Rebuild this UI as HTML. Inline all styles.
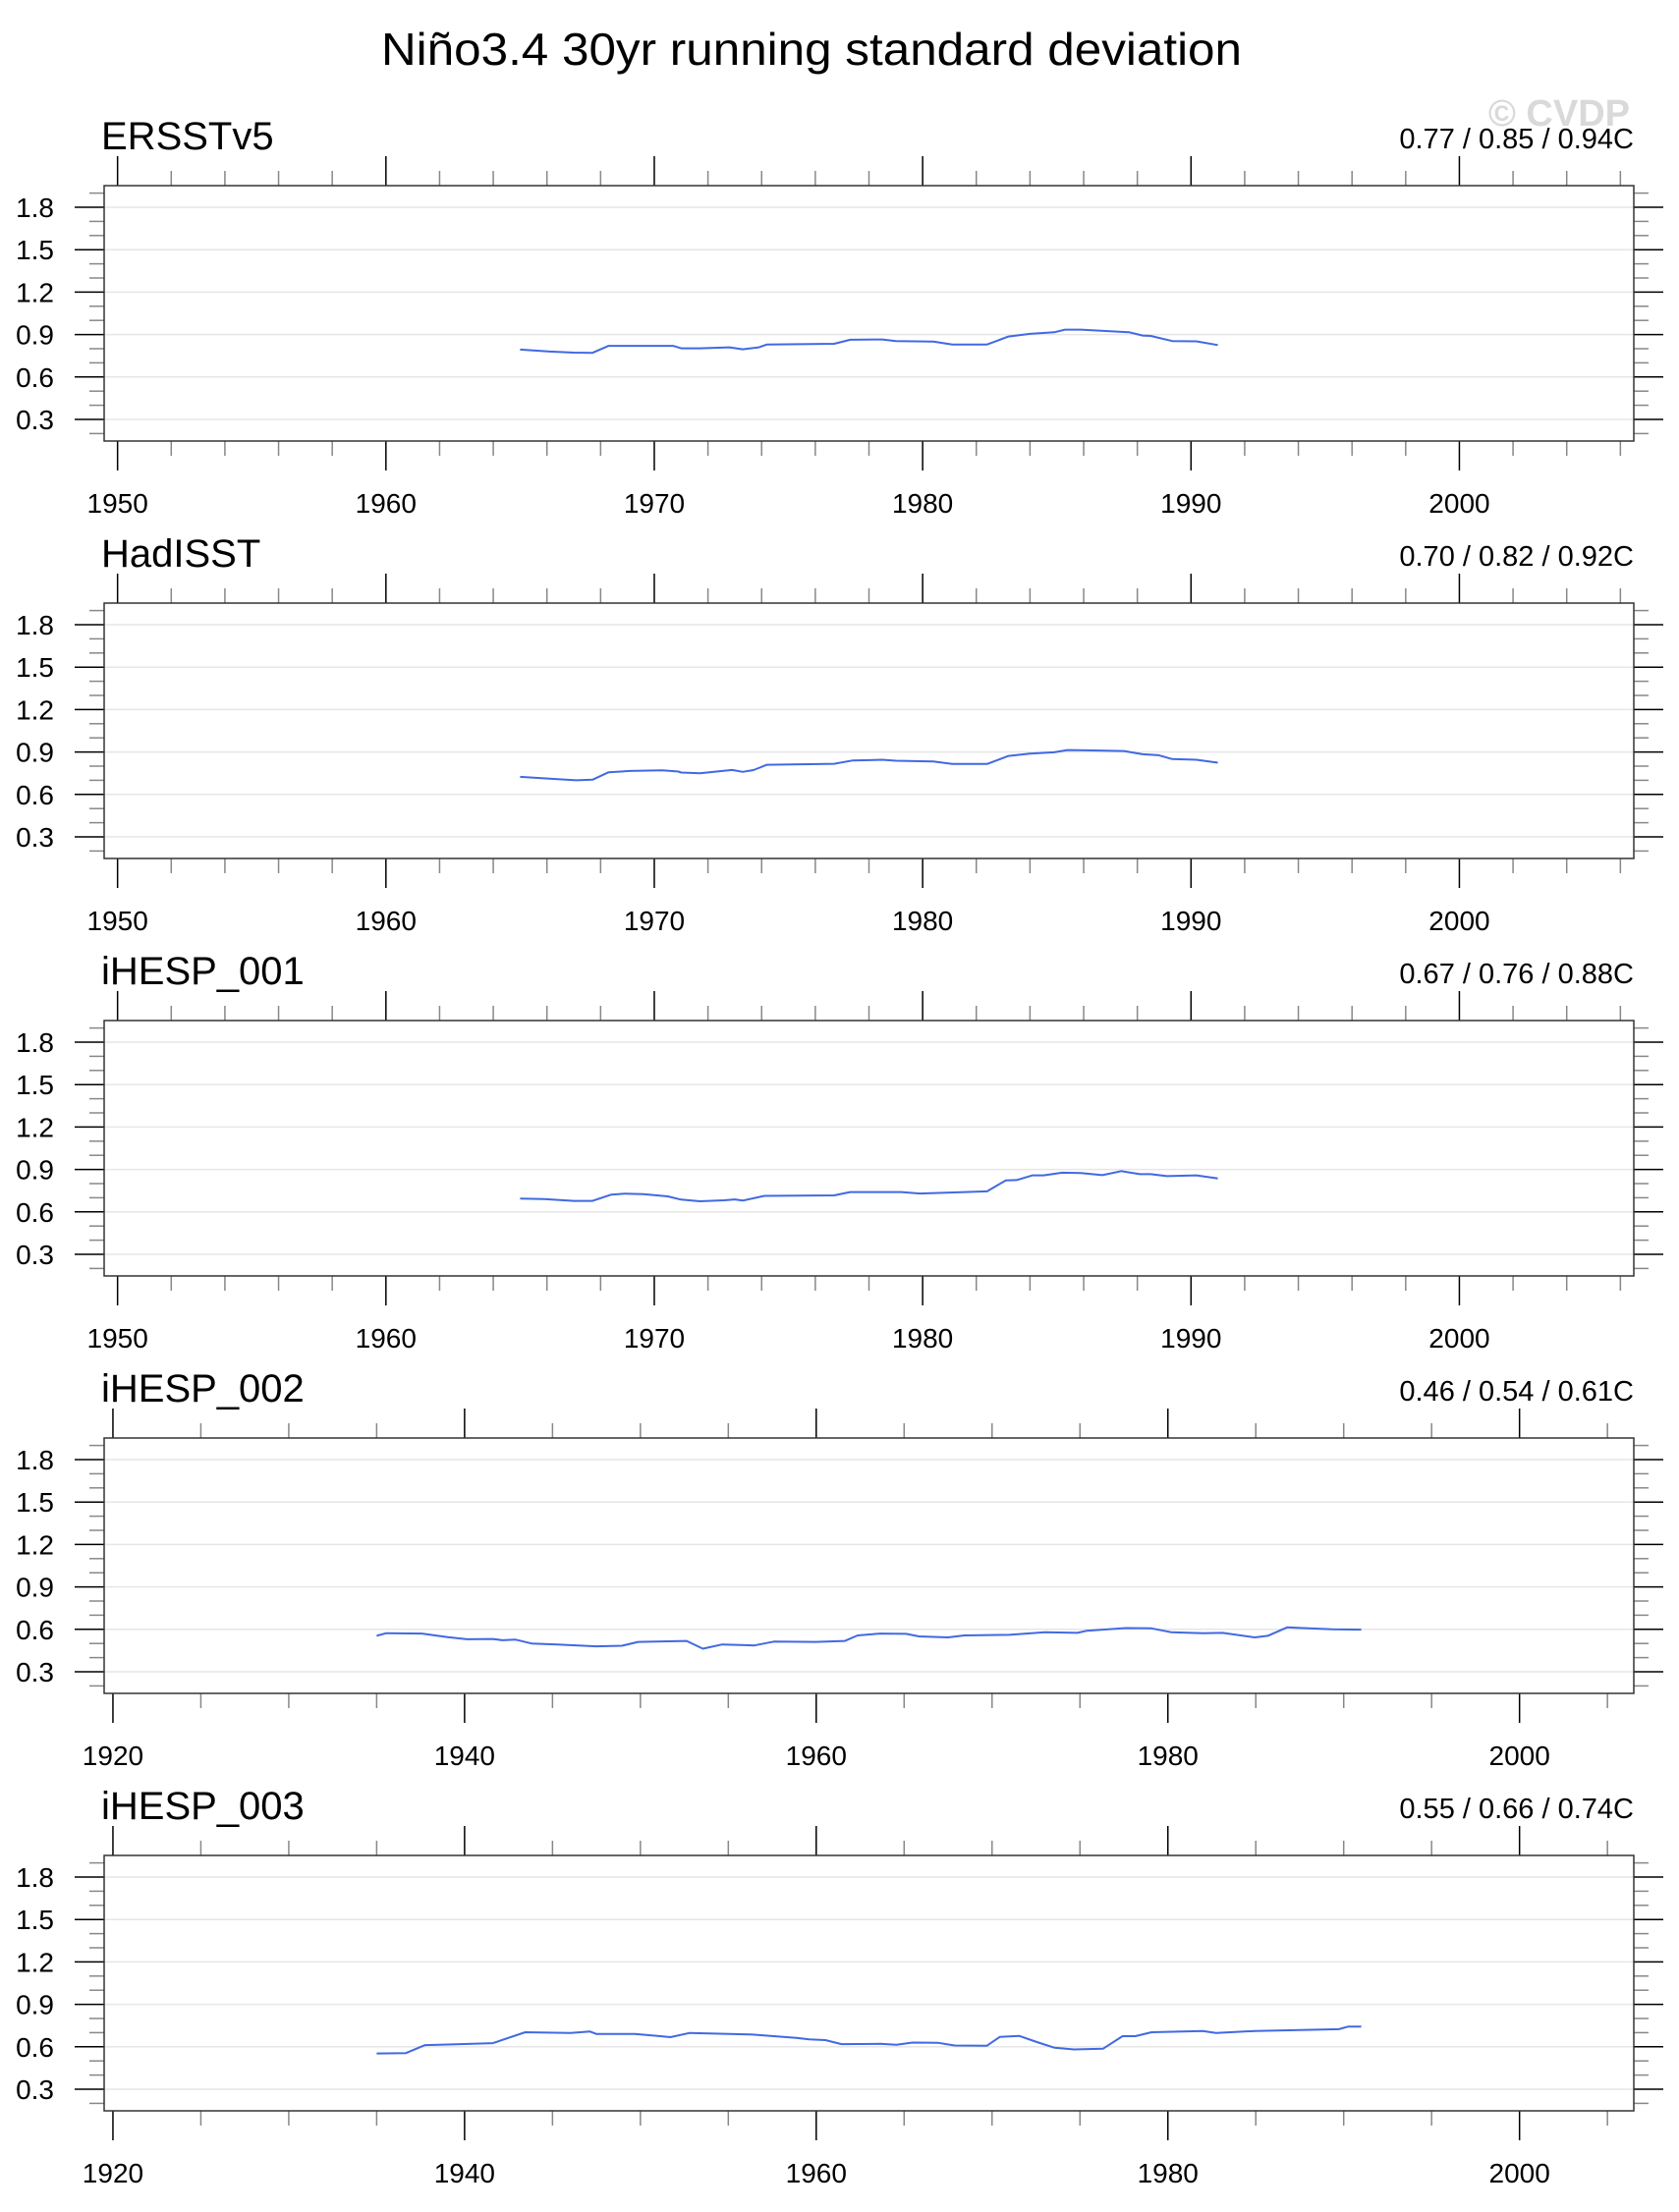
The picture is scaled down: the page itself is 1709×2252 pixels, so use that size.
<!DOCTYPE html>
<html><head><meta charset="utf-8">
<style>
html,body{margin:0;padding:0;background:#fff;}
svg{display:block;font-family:"Liberation Sans",sans-serif;}
</style></head>
<body>
<svg id="chart" width="1709" height="2252" viewBox="0 0 1709 2252" xmlns="http://www.w3.org/2000/svg">
<text x="388" y="66" font-size="46" textLength="876" lengthAdjust="spacingAndGlyphs">Niño3.4 30yr running standard deviation</text>
<text x="1659" y="128" font-size="38" font-weight="bold" fill="#d9d9d9" text-anchor="end">© CVDP</text>
</svg>
<script>
const panelNames = ["ERSSTv5","HadISST","iHESP_001","iHESP_002","iHESP_003"];
const panelStats = ["0.77 / 0.85 / 0.94C","0.70 / 0.82 / 0.92C","0.67 / 0.76 / 0.88C","0.46 / 0.54 / 0.61C","0.55 / 0.66 / 0.74C"];
const yTicks = [0.3,0.6,0.9,1.2,1.5,1.8];
const yTickLabels = ["0.3","0.6","0.9","1.2","1.5","1.8"];
const xRangeShort = [1949.5,2006.5];
const xRangeLong = [1919.5,2006.5];
const xTicksShort = [1950,1960,1970,1980,1990,2000];
const xTicksLong = [1920,1940,1960,1980,2000];

const yearsA = [1965.0,1966.1,1967.0,1967.7,1968.3,1970.7,1971.0,1971.7,1972.8,1973.3,1973.9,1974.2,1976.7,1977.3,1978.5,1979.0,1980.4,1981.1,1982.4,1983.2,1984.0,1984.9,1985.3,1985.9,1987.7,1988.2,1988.5,1989.3,1990.2,1991.0];
const valsERSST = [0.794,0.78,0.772,0.771,0.82,0.82,0.803,0.803,0.81,0.796,0.81,0.83,0.835,0.863,0.865,0.854,0.85,0.83,0.83,0.886,0.905,0.916,0.935,0.935,0.916,0.893,0.89,0.854,0.852,0.826];

const yearsB = [1965.0,1966.4,1967.1,1967.7,1968.3,1969.1,1970.3,1970.9,1971.0,1971.7,1972.9,1973.3,1973.7,1974.2,1976.7,1977.4,1978.5,1979.0,1980.4,1981.1,1982.4,1983.2,1984.0,1984.9,1985.4,1986.1,1987.5,1988.2,1988.8,1989.3,1990.2,1991.0];
const valsHadISST = [0.724,0.708,0.70,0.704,0.757,0.766,0.77,0.762,0.755,0.75,0.773,0.76,0.772,0.81,0.817,0.84,0.845,0.838,0.833,0.815,0.815,0.872,0.888,0.898,0.914,0.912,0.907,0.884,0.877,0.85,0.845,0.824];

const yearsC = [1965.0,1965.9,1967.0,1967.7,1968.4,1968.9,1969.6,1970.5,1971.0,1971.7,1972.6,1973.0,1973.3,1974.1,1976.7,1977.3,1979.2,1979.9,1981.3,1982.4,1983.1,1983.5,1984.1,1984.5,1985.2,1985.9,1986.7,1987.4,1988.1,1988.5,1989.1,1990.2,1991.0];
const valsIHESP001 = [0.694,0.69,0.678,0.678,0.722,0.729,0.725,0.71,0.687,0.675,0.682,0.688,0.68,0.713,0.717,0.74,0.74,0.73,0.738,0.745,0.823,0.825,0.858,0.858,0.877,0.875,0.86,0.888,0.867,0.867,0.853,0.858,0.837];

const yearsD = [1935.0,1935.55,1937.57,1939.04,1940.14,1941.61,1942.16,1942.9,1943.81,1945.28,1947.49,1948.96,1949.87,1952.63,1953.55,1954.65,1956.48,1957.59,1959.97,1961.63,1962.36,1963.64,1965.11,1965.85,1967.5,1968.42,1970.99,1973.01,1974.85,1975.4,1977.6,1979.07,1980.17,1982.01,1983.11,1984.95,1985.68,1986.78,1987.52,1989.35,1991.0];
const valsIHESP002 = [0.554,0.573,0.57,0.545,0.53,0.532,0.523,0.527,0.50,0.493,0.48,0.484,0.511,0.518,0.463,0.493,0.486,0.513,0.511,0.518,0.557,0.57,0.568,0.55,0.543,0.557,0.561,0.579,0.575,0.59,0.609,0.607,0.58,0.573,0.575,0.543,0.554,0.614,0.61,0.60,0.598];

const yearsE = [1935.0,1936.65,1937.75,1939.04,1941.61,1943.45,1946.02,1947.12,1947.49,1949.69,1950.98,1951.71,1952.81,1956.3,1958.87,1959.61,1960.52,1961.44,1963.64,1964.56,1965.48,1966.95,1967.87,1969.7,1970.44,1971.54,1972.64,1973.56,1974.66,1976.31,1977.42,1978.15,1979.07,1981.99,1982.74,1984.95,1989.72,1990.27,1991.0];
const valsIHESP003 = [0.553,0.555,0.612,0.616,0.626,0.703,0.698,0.708,0.691,0.691,0.677,0.668,0.698,0.687,0.663,0.652,0.647,0.619,0.621,0.614,0.63,0.628,0.609,0.607,0.67,0.677,0.63,0.593,0.581,0.586,0.675,0.675,0.703,0.712,0.698,0.712,0.724,0.743,0.743];

const seriesYears = [yearsA,yearsB,yearsC,yearsD,yearsE];
const seriesVals = [valsERSST,valsHadISST,valsIHESP001,valsIHESP002,valsIHESP003];

const NS = "http://www.w3.org/2000/svg";
const svg = document.getElementById('chart');
const L = 106, R = 1663, H = 260, TOP0 = 189, STEP = 425;
const yMin = 0.3 - 22/144, yMax = 1.8 + 22/144;

function mk(tag, attrs, parent){
  const e = document.createElementNS(NS, tag);
  for (const k in attrs) e.setAttribute(k, attrs[k]);
  (parent || svg).appendChild(e);
  return e;
}

for (let p = 0; p < 5; p++) {
  const top = TOP0 + p*STEP, bot = top + H;
  const xr = p < 3 ? xRangeShort : xRangeLong;
  const xt = p < 3 ? xTicksShort : xTicksLong;
  const minorStep = p < 3 ? 2 : 5;
  const xs = v => L + (v - xr[0])/(xr[1]-xr[0])*(R-L);
  const ys = v => bot - (v - yMin)/(yMax-yMin)*H;

  const g = mk('g', {});
  
  

  const t = mk('text', {x: 103, y: top-37, 'font-size': 40}, g);
  
  
  t.textContent = panelNames[p];

  const st = mk('text', {x: R, y: top-38, 'font-size': 29, 'text-anchor': 'end'}, g);
  
  
  st.textContent = panelStats[p];

  yTicks.forEach(v => {
    const gl = mk('line', {x1: L, x2: R, y1: ys(v), y2: ys(v), stroke: '#e6e6e6', 'stroke-width': 1.5}, g);
    
    
  });

  for (let k = 2; k <= 19; k++) {
    const v = k/10;
    if (v < yMin || v > yMax) continue;
    const major = (k % 3 === 0);
    const len = major ? 30 : 15;
    const yy = ys(v);
    const tl = mk('line', {x1: L-len, x2: L, y1: yy, y2: yy, stroke: major ? '#000' : '#888', 'stroke-width': 1.5}, g);
    
    
    const tr = mk('line', {x1: R, x2: R+len, y1: yy, y2: yy, stroke: major ? '#000' : '#888', 'stroke-width': 1.5}, g);
    
    
  }
  yTicks.forEach((v, i) => {
    const lb = mk('text', {x: 55, y: ys(v)+10, 'font-size': 28, 'text-anchor': 'end'}, g);
    
    
    lb.textContent = yTickLabels[i];
  });

  const majorStep = xt[1]-xt[0];
  for (let yr = Math.ceil(xr[0]/minorStep)*minorStep; yr <= xr[1]; yr += minorStep) {
    const major = (yr % majorStep === 0);
    const len = major ? 30 : 15;
    const xx = xs(yr);
    const tt = mk('line', {x1: xx, x2: xx, y1: top-len, y2: top, stroke: major ? '#000' : '#888', 'stroke-width': 1.5}, g);
    
    
    const tb = mk('line', {x1: xx, x2: xx, y1: bot, y2: bot+len, stroke: major ? '#000' : '#888', 'stroke-width': 1.5}, g);
    
    
  }
  xt.forEach(v => {
    const lb = mk('text', {x: xs(v), y: bot+73, 'font-size': 28, 'text-anchor': 'middle'}, g);
    
    
    lb.textContent = String(v);
  });

  const fr = mk('rect', {x: L, y: top, width: R-L, height: H, fill: 'none', stroke: '#333', 'stroke-width': 1.5}, g);
  
  

  const yrs = seriesYears[p], vals = seriesVals[p];
  const d = yrs.map((yv, i) => (i ? 'L' : 'M') + xs(yv).toFixed(1) + ' ' + ys(vals[i]).toFixed(1)).join(' ');
  const ln = mk('path', {d: d, fill: 'none', stroke: '#4169e1', 'stroke-width': 2, 'stroke-linejoin': 'round'}, g);
  
  
}
</script>
</body></html>
